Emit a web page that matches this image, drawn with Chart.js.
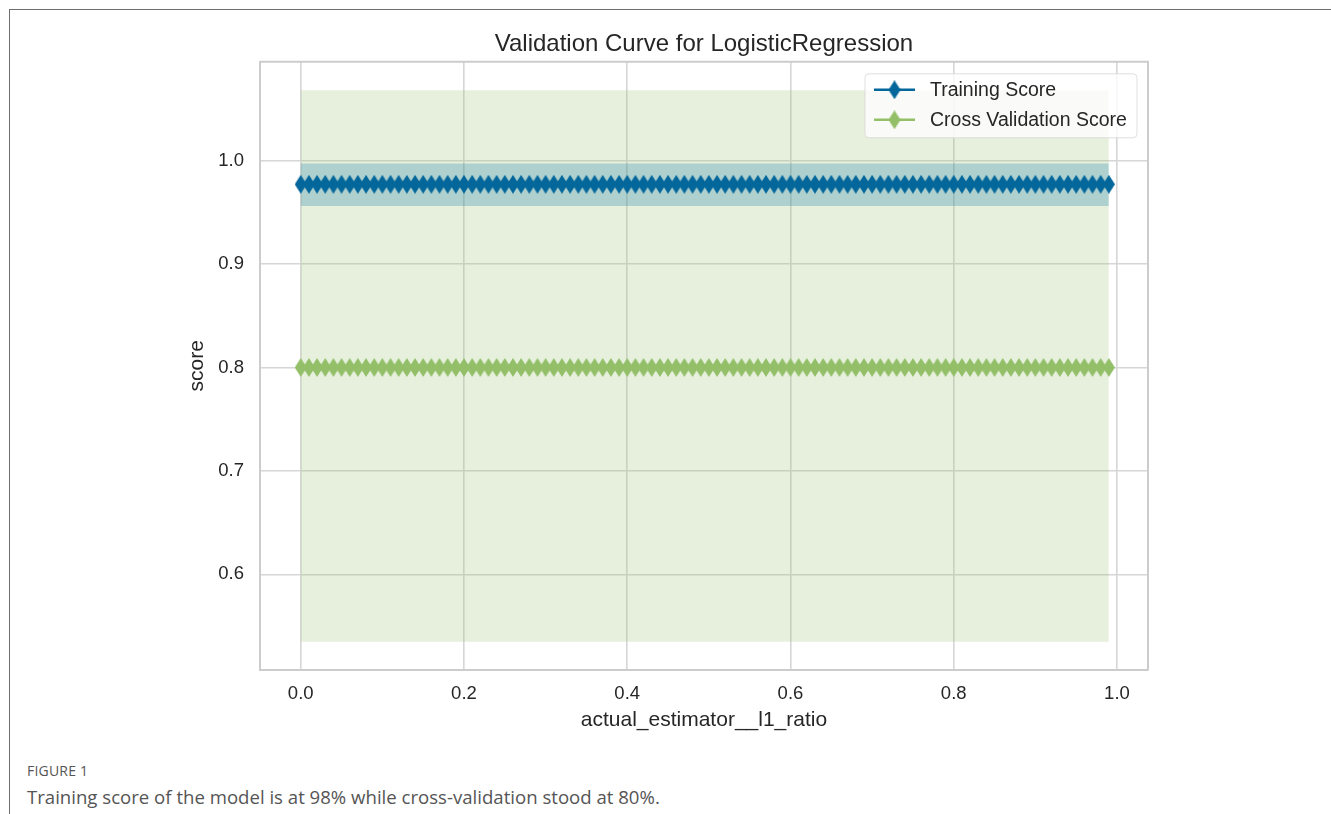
<!DOCTYPE html>
<html><head><meta charset="utf-8">
<script src="https://cdn.jsdelivr.net/npm/chart.js@4.4.1/dist/chart.umd.min.js"></script>
<style>
html,body{margin:0;padding:0;background:#fff;width:1331px;height:814px;overflow:hidden;}
#frame{position:absolute;left:9px;top:9px;width:1330px;height:820px;border-top:1px solid #6e6e6e;border-left:1px solid #6e6e6e;}
#c{position:absolute;left:0;top:0;}
#fig{position:absolute;left:27px;top:761px;font-family:'Open Sans';font-size:14px;color:#555;font-weight:normal;letter-spacing:0.2px;white-space:nowrap}
#cap{position:absolute;left:27px;top:784px;font-family:'Open Sans';font-size:18.6px;color:#555;white-space:nowrap}
</style></head>
<body>
<div id="frame"></div>
<canvas id="c" width="1331" height="760"></canvas>
<div id="fig">FIGURE 1</div>
<div id="cap">Training score of the model is at 98% while cross-validation stood at 80%.</div>
<script>
// l1_ratio parameter values (x)
const l1Ratio = [0.00,0.01,0.02,0.03,0.04,0.05,0.06,0.07,0.08,0.09,
0.10,0.11,0.12,0.13,0.14,0.15,0.16,0.17,0.18,0.19,
0.20,0.21,0.22,0.23,0.24,0.25,0.26,0.27,0.28,0.29,
0.30,0.31,0.32,0.33,0.34,0.35,0.36,0.37,0.38,0.39,
0.40,0.41,0.42,0.43,0.44,0.45,0.46,0.47,0.48,0.49,
0.50,0.51,0.52,0.53,0.54,0.55,0.56,0.57,0.58,0.59,
0.60,0.61,0.62,0.63,0.64,0.65,0.66,0.67,0.68,0.69,
0.70,0.71,0.72,0.73,0.74,0.75,0.76,0.77,0.78,0.79,
0.80,0.81,0.82,0.83,0.84,0.85,0.86,0.87,0.88,0.89,
0.90,0.91,0.92,0.93,0.94,0.95,0.96,0.97,0.98,0.99];
const trainScore = [0.977,0.977,0.977,0.977,0.977,0.977,0.977,0.977,0.977,0.977,
0.977,0.977,0.977,0.977,0.977,0.977,0.977,0.977,0.977,0.977,
0.977,0.977,0.977,0.977,0.977,0.977,0.977,0.977,0.977,0.977,
0.977,0.977,0.977,0.977,0.977,0.977,0.977,0.977,0.977,0.977,
0.977,0.977,0.977,0.977,0.977,0.977,0.977,0.977,0.977,0.977,
0.977,0.977,0.977,0.977,0.977,0.977,0.977,0.977,0.977,0.977,
0.977,0.977,0.977,0.977,0.977,0.977,0.977,0.977,0.977,0.977,
0.977,0.977,0.977,0.977,0.977,0.977,0.977,0.977,0.977,0.977,
0.977,0.977,0.977,0.977,0.977,0.977,0.977,0.977,0.977,0.977,
0.977,0.977,0.977,0.977,0.977,0.977,0.977,0.977,0.977,0.977];
const trainUpper = [0.997,0.997,0.997,0.997,0.997,0.997,0.997,0.997,0.997,0.997,
0.997,0.997,0.997,0.997,0.997,0.997,0.997,0.997,0.997,0.997,
0.997,0.997,0.997,0.997,0.997,0.997,0.997,0.997,0.997,0.997,
0.997,0.997,0.997,0.997,0.997,0.997,0.997,0.997,0.997,0.997,
0.997,0.997,0.997,0.997,0.997,0.997,0.997,0.997,0.997,0.997,
0.997,0.997,0.997,0.997,0.997,0.997,0.997,0.997,0.997,0.997,
0.997,0.997,0.997,0.997,0.997,0.997,0.997,0.997,0.997,0.997,
0.997,0.997,0.997,0.997,0.997,0.997,0.997,0.997,0.997,0.997,
0.997,0.997,0.997,0.997,0.997,0.997,0.997,0.997,0.997,0.997,
0.997,0.997,0.997,0.997,0.997,0.997,0.997,0.997,0.997,0.997];
const trainLower = [0.956,0.956,0.956,0.956,0.956,0.956,0.956,0.956,0.956,0.956,
0.956,0.956,0.956,0.956,0.956,0.956,0.956,0.956,0.956,0.956,
0.956,0.956,0.956,0.956,0.956,0.956,0.956,0.956,0.956,0.956,
0.956,0.956,0.956,0.956,0.956,0.956,0.956,0.956,0.956,0.956,
0.956,0.956,0.956,0.956,0.956,0.956,0.956,0.956,0.956,0.956,
0.956,0.956,0.956,0.956,0.956,0.956,0.956,0.956,0.956,0.956,
0.956,0.956,0.956,0.956,0.956,0.956,0.956,0.956,0.956,0.956,
0.956,0.956,0.956,0.956,0.956,0.956,0.956,0.956,0.956,0.956,
0.956,0.956,0.956,0.956,0.956,0.956,0.956,0.956,0.956,0.956,
0.956,0.956,0.956,0.956,0.956,0.956,0.956,0.956,0.956,0.956];
const cvScore = [0.800,0.800,0.800,0.800,0.800,0.800,0.800,0.800,0.800,0.800,
0.800,0.800,0.800,0.800,0.800,0.800,0.800,0.800,0.800,0.800,
0.800,0.800,0.800,0.800,0.800,0.800,0.800,0.800,0.800,0.800,
0.800,0.800,0.800,0.800,0.800,0.800,0.800,0.800,0.800,0.800,
0.800,0.800,0.800,0.800,0.800,0.800,0.800,0.800,0.800,0.800,
0.800,0.800,0.800,0.800,0.800,0.800,0.800,0.800,0.800,0.800,
0.800,0.800,0.800,0.800,0.800,0.800,0.800,0.800,0.800,0.800,
0.800,0.800,0.800,0.800,0.800,0.800,0.800,0.800,0.800,0.800,
0.800,0.800,0.800,0.800,0.800,0.800,0.800,0.800,0.800,0.800,
0.800,0.800,0.800,0.800,0.800,0.800,0.800,0.800,0.800,0.800];
const cvUpper = [1.068,1.068,1.068,1.068,1.068,1.068,1.068,1.068,1.068,1.068,
1.068,1.068,1.068,1.068,1.068,1.068,1.068,1.068,1.068,1.068,
1.068,1.068,1.068,1.068,1.068,1.068,1.068,1.068,1.068,1.068,
1.068,1.068,1.068,1.068,1.068,1.068,1.068,1.068,1.068,1.068,
1.068,1.068,1.068,1.068,1.068,1.068,1.068,1.068,1.068,1.068,
1.068,1.068,1.068,1.068,1.068,1.068,1.068,1.068,1.068,1.068,
1.068,1.068,1.068,1.068,1.068,1.068,1.068,1.068,1.068,1.068,
1.068,1.068,1.068,1.068,1.068,1.068,1.068,1.068,1.068,1.068,
1.068,1.068,1.068,1.068,1.068,1.068,1.068,1.068,1.068,1.068,
1.068,1.068,1.068,1.068,1.068,1.068,1.068,1.068,1.068,1.068];
const cvLower = [0.535,0.535,0.535,0.535,0.535,0.535,0.535,0.535,0.535,0.535,
0.535,0.535,0.535,0.535,0.535,0.535,0.535,0.535,0.535,0.535,
0.535,0.535,0.535,0.535,0.535,0.535,0.535,0.535,0.535,0.535,
0.535,0.535,0.535,0.535,0.535,0.535,0.535,0.535,0.535,0.535,
0.535,0.535,0.535,0.535,0.535,0.535,0.535,0.535,0.535,0.535,
0.535,0.535,0.535,0.535,0.535,0.535,0.535,0.535,0.535,0.535,
0.535,0.535,0.535,0.535,0.535,0.535,0.535,0.535,0.535,0.535,
0.535,0.535,0.535,0.535,0.535,0.535,0.535,0.535,0.535,0.535,
0.535,0.535,0.535,0.535,0.535,0.535,0.535,0.535,0.535,0.535,
0.535,0.535,0.535,0.535,0.535,0.535,0.535,0.535,0.535,0.535];
const seriesNames = ['Training Score', 'Cross Validation Score'];
const xTicks = [0.0, 0.2, 0.4, 0.6, 0.8, 1.0];
const yTicks = [0.6, 0.7, 0.8, 0.9, 1.0];

const BLUE = '#04679b', GREEN = '#93bf69';
const FONT = "'Liberation Sans', Arial, sans-serif";
const TXT = '#262626';

function diamond(color, w, h) {
  const c = document.createElement('canvas');
  c.width = w; c.height = h;
  const g = c.getContext('2d');
  g.fillStyle = color;
  g.beginPath();
  g.moveTo(w / 2, 0); g.lineTo(w, h / 2); g.lineTo(w / 2, h); g.lineTo(0, h / 2);
  g.closePath(); g.fill();
  return c;
}
const blueMk = diamond(BLUE, 12, 19), greenMk = diamond(GREEN, 12, 19);
const pts = ys => l1Ratio.map((x, i) => ({x: x, y: ys[i]}));

const band = (ys, col) => ({data: pts(ys), fill: '+1', backgroundColor: col, borderWidth: 0,
  borderColor: 'rgba(0,0,0,0)', pointRadius: 0, pointHoverRadius: 0});
const bound = ys => ({data: pts(ys), fill: false, borderWidth: 0, borderColor: 'rgba(0,0,0,0)',
  pointRadius: 0, pointHoverRadius: 0});

const frameBox = {
  id: 'frameBox',
  beforeDatasetsDraw(chart) {
    const {ctx, chartArea: a} = chart;
    ctx.save();
    ctx.strokeStyle = '#cccccc'; ctx.lineWidth = 2;
    ctx.beginPath();
    ctx.moveTo(a.left, a.top); ctx.lineTo(a.right, a.top); ctx.lineTo(a.right, a.bottom);
    ctx.stroke();
    ctx.restore();
  }
};
const lineLegend = {
  id: 'lineLegend',
  afterDatasetsDraw(chart) {
    const {ctx, chartArea: a} = chart;
    const bx = a.right - 283, by = a.top + 12, bw = 272, bh = 64;
    ctx.save();
    ctx.fillStyle = 'rgba(255,255,255,0.8)';
    ctx.strokeStyle = 'rgba(215,215,215,0.8)';
    ctx.lineWidth = 1;
    ctx.beginPath();
    ctx.roundRect(bx, by, bw, bh, 4);
    ctx.fill(); ctx.stroke();
    const cols = [BLUE, GREEN], mks = [blueMk, greenMk];
    seriesNames.forEach((name, i) => {
      const yy = by + 16 + i * 30;
      ctx.strokeStyle = cols[i]; ctx.lineWidth = 2.5;
      ctx.beginPath(); ctx.moveTo(bx + 9, yy); ctx.lineTo(bx + 50, yy); ctx.stroke();
      ctx.drawImage(mks[i], bx + 29.5 - 6, yy - 9.5);
      ctx.fillStyle = TXT;
      ctx.font = '19.5px ' + FONT;
      ctx.textBaseline = 'middle';
      ctx.fillText(name, bx + 65, yy + 1);
    });
    ctx.restore();
  }
};

new Chart(document.getElementById('c'), {
  type: 'line',
  data: {
    datasets: [
      {label: seriesNames[0], data: pts(trainScore), borderColor: BLUE, borderWidth: 2.5,
       pointStyle: blueMk, pointRadius: 9, fill: false},
      {label: seriesNames[1], data: pts(cvScore), borderColor: GREEN, borderWidth: 2.5,
       pointStyle: greenMk, pointRadius: 9, fill: false},
      band(trainUpper, 'rgba(2,114,162,0.25)'),
      bound(trainLower),
      band(cvUpper, 'rgba(159,195,119,0.25)'),
      bound(cvLower)
    ]
  },
  options: {
    responsive: false,
    devicePixelRatio: 1,
    animation: false,
    layout: {padding: {left: 185, right: 183, top: 0, bottom: 27}},
    plugins: {
      legend: {display: false},
      tooltip: {enabled: false},
      filler: {drawTime: 'beforeDatasetsDraw'},
      title: {display: true, text: 'Validation Curve for LogisticRegression', fullSize: false,
        font: {family: FONT, size: 24, weight: 'normal'}, color: TXT, padding: {top: 30, bottom: 3}}
    },
    scales: {
      x: {
        type: 'linear', min: -0.05, max: 1.038,
        afterBuildTicks: s => { s.ticks = xTicks.map(v => ({value: v})); },
        ticks: {callback: v => v.toFixed(1), font: {family: FONT, size: 18.5}, color: TXT,
          padding: 13, maxRotation: 0, autoSkip: false},
        grid: {color: '#d6d6d6', lineWidth: 1.6, drawTicks: false},
        border: {color: '#cccccc', width: 2},
        title: {display: true, text: 'actual_estimator__l1_ratio', font: {family: FONT, size: 21},
          color: TXT, padding: {top: -10, bottom: 0}}
      },
      y: {
        type: 'linear', min: 0.508, max: 1.0954,
        afterBuildTicks: s => { s.ticks = yTicks.map(v => ({value: v})); },
        ticks: {callback: v => v.toFixed(1), font: {family: FONT, size: 18.5}, color: TXT,
          padding: 16, autoSkip: false},
        grid: {color: '#d6d6d6', lineWidth: 1.6, drawTicks: false},
        border: {color: '#cccccc', width: 2},
        title: {display: true, text: 'score', font: {family: FONT, size: 21},
          color: TXT, padding: {top: 0, bottom: -8}}
      }
    }
  },
  plugins: [frameBox, lineLegend]
});
</script>
</body></html>
